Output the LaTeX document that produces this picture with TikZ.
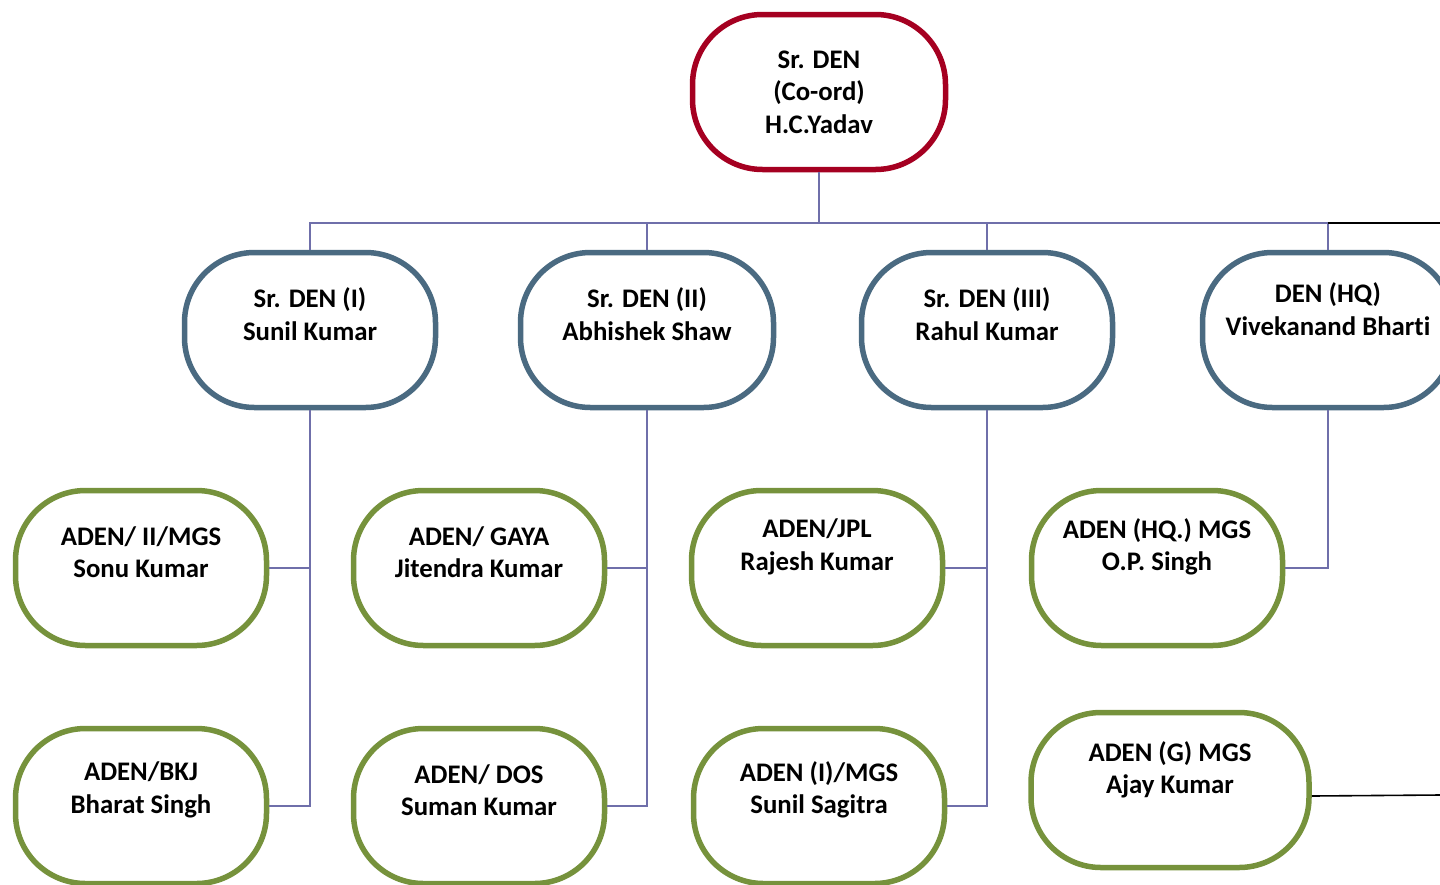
\documentclass[tikz,border=0pt]{standalone}
\usepackage{fontspec}
\setmainfont[Ligatures=CommonOff]{Carlito}
\definecolor{headred}{HTML}{A50021}
\definecolor{dengrey}{HTML}{4A6A81}
\definecolor{adengreen}{HTML}{76923C}
\definecolor{linkblue}{HTML}{6F6FAA}
\usetikzlibrary{positioning}
\tikzstyle{post}=[draw, fill=white, line width=5.5pt, rounded corners=70pt, minimum width=251pt, minimum height=155pt, inner sep=0pt]
\tikzstyle{headbox}=[post, draw=headred, minimum width=253pt]
\tikzstyle{denbox}=[post, draw=dengrey]
\tikzstyle{adenbox}=[post, draw=adengreen]
\tikzstyle{who}=[align=center, font=\bfseries\fontsize{26.8}{32.5}\selectfont, inner sep=0pt]
\tikzstyle{link}=[draw=linkblue, line width=1.6pt]
\tikzstyle{outlink}=[draw=black, line width=1.6pt]

\begin{document}
\begin{tikzpicture}[x=1pt, y=-1pt]
    \useasboundingbox (0,0) rectangle (1440,884);
    \clip (0,0) rectangle (1440,884);

    \node [headbox] (top) at (819,92) {};
    \node [denbox] (d1) at (310,330) {};
    \node [denbox, minimum width=253pt] (d2) at (647,330) {};
    \node [denbox] (d3) at (987,330) {};
    \node [denbox] (d4) at (1328,330) {};
    \node [adenbox] (a1) at (141,568) {};
    \node [adenbox] (a2) at (479,568) {};
    \node [adenbox] (a3) at (817,568) {};
    \node [adenbox] (a4) at (1157,568) {};
    \node [adenbox] (b1) at (141,806) {};
    \node [adenbox] (b2) at (479,806) {};
    \node [adenbox] (b3) at (819,806) {};
    \node [adenbox, minimum width=278pt] (b4) at (1170,790) {};

    \node [who] (topt) at (top) {Sr. DEN\\(Co-ord)\\H.C.Yadav};
    \node [who] (d1t) at ([yshift=16pt]d1.center) {Sr. DEN (I)\\Sunil Kumar};
    \node [who] (d2t) at ([yshift=16pt]d2.center) {Sr. DEN (II)\\Abhishek Shaw};
    \node [who] (d3t) at ([yshift=16pt]d3.center) {Sr. DEN (III)\\Rahul Kumar};
    \node [who] (d4t) at ([yshift=21pt]d4.center) {DEN (HQ)\\Vivekanand Bharti};
    \node [who] (a1t) at ([yshift=16pt]a1.center) {ADEN/ II/MGS\\Sonu Kumar};
    \node [who] (a2t) at ([yshift=16pt]a2.center) {ADEN/ GAYA\\Jitendra Kumar};
    \node [who] (a3t) at ([yshift=21pt]a3.center) {ADEN/JPL\\Rajesh Kumar};
    \node [who] (a4t) at ([yshift=21pt]a4.center) {ADEN (HQ.) MGS\\O.P. Singh};
    \node [who] (b1t) at ([yshift=16pt]b1.center) {ADEN/BKJ\\Bharat Singh};
    \node [who] (b2t) at ([yshift=16pt]b2.center) {ADEN/ DOS\\Suman Kumar};
    \node [who] (b3t) at ([yshift=16pt]b3.center) {ADEN (I)/MGS\\Sunil Sagitra};
    \node [who] (b4t) at ([yshift=20pt]b4.center) {ADEN (G) MGS\\Ajay Kumar};

    \coordinate (bus) at (819,223);
    \coordinate (offtop) at (1440,223);
    \coordinate (offbot) at (1440,795);

    \draw [link] (top.south) -- (bus);
    \draw [link] (d1.north) |- (bus) -| (d4.north);
    \draw [link] (d2.north) -- (d2.north |- bus);
    \draw [link] (d3.north) -- (d3.north |- bus);
    \draw [outlink] (d4.north |- bus) -- (offtop);

    \draw [link] (d1.south) |- (a1.east);
    \draw [link] (d1.south) |- (b1.east);
    \draw [link] (d2.south) |- (a2.east);
    \draw [link] (d2.south) |- (b2.east);
    \draw [link] (d3.south) |- (a3.east);
    \draw [link] (d3.south) |- (b3.east);
    \draw [link] (d4.south) |- (a4.east);
    \draw [outlink] ([yshift=-6pt]b4.east) -- (offbot);
\end{tikzpicture}
\end{document}
